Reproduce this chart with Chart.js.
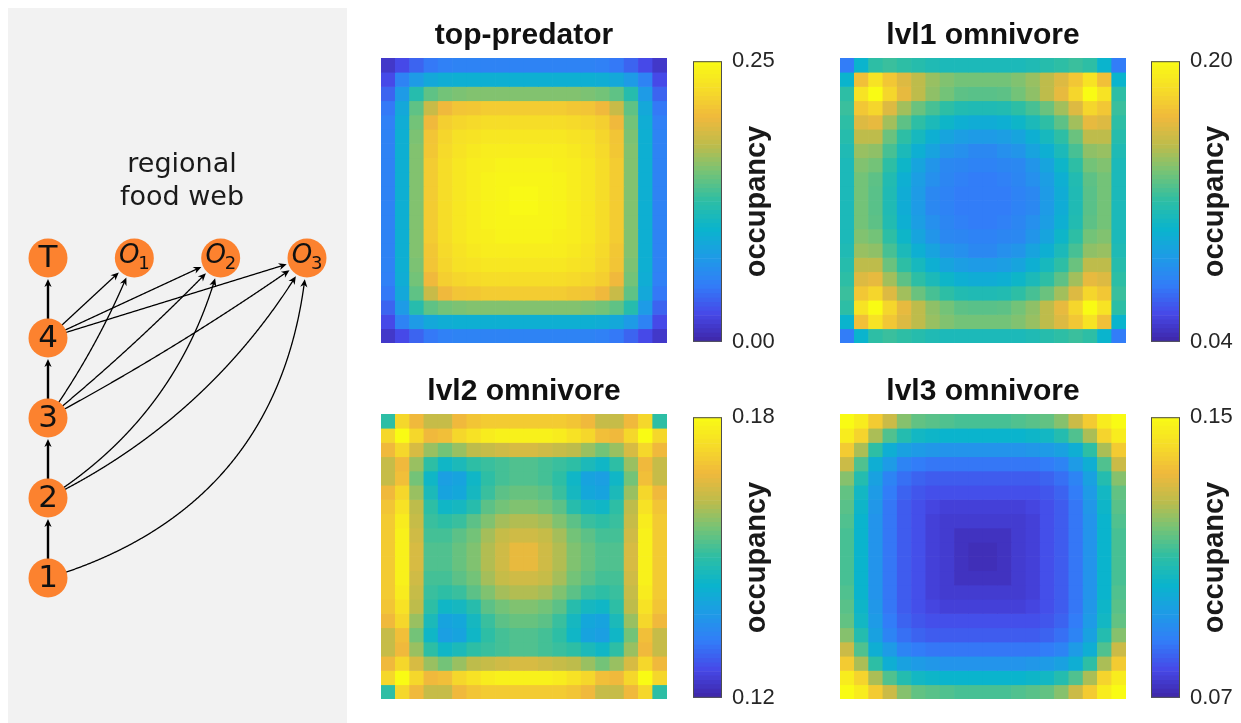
<!DOCTYPE html>
<html><head><meta charset="utf-8">
<script src="https://cdn.jsdelivr.net/npm/chart.js@4.4.1/dist/chart.umd.min.js"></script>
<style>
html,body{margin:0;padding:0;background:#fff;width:1241px;height:723px;overflow:hidden;position:relative}
canvas{position:absolute}
</style></head><body>
<script>
// ---------------- DATA ----------------
const N = 20;
const colLabels = Array.from({length: N}, (_, i) => String(i));
const panelTitles = ['top-predator', 'lvl1 omnivore', 'lvl2 omnivore', 'lvl3 omnivore'];
const rangeMin = [0.00, 0.04, 0.12, 0.07];
const rangeMax = [0.25, 0.20, 0.18, 0.15];
const tickLabels = [['0.00', '0.25'], ['0.04', '0.20'], ['0.12', '0.18'], ['0.07', '0.15']];

const topPredator = [
[.013,.025,.038,.048,.053,.055,.055,.055,.055,.055,.055,.055,.055,.055,.055,.053,.048,.038,.025,.013],
[.025,.055,.075,.088,.093,.095,.095,.095,.095,.095,.095,.095,.095,.095,.095,.093,.088,.075,.055,.025],
[.038,.075,.120,.143,.150,.153,.155,.155,.155,.155,.155,.155,.155,.155,.153,.150,.143,.120,.075,.038],
[.048,.088,.143,.180,.200,.208,.210,.213,.213,.213,.213,.213,.213,.210,.208,.200,.180,.143,.088,.048],
[.053,.093,.150,.200,.215,.220,.223,.225,.225,.225,.225,.225,.225,.223,.220,.215,.200,.150,.093,.053],
[.055,.095,.153,.208,.220,.228,.230,.233,.233,.233,.233,.233,.233,.230,.228,.220,.208,.153,.095,.055],
[.055,.095,.155,.210,.223,.230,.235,.238,.238,.238,.238,.238,.238,.235,.230,.223,.210,.155,.095,.055],
[.055,.095,.155,.213,.225,.233,.238,.240,.243,.243,.243,.243,.240,.238,.233,.225,.213,.155,.095,.055],
[.055,.095,.155,.213,.225,.233,.238,.243,.245,.245,.245,.245,.243,.238,.233,.225,.213,.155,.095,.055],
[.055,.095,.155,.213,.225,.233,.238,.243,.245,.248,.248,.245,.243,.238,.233,.225,.213,.155,.095,.055],
[.055,.095,.155,.213,.225,.233,.238,.243,.245,.248,.248,.245,.243,.238,.233,.225,.213,.155,.095,.055],
[.055,.095,.155,.213,.225,.233,.238,.243,.245,.245,.245,.245,.243,.238,.233,.225,.213,.155,.095,.055],
[.055,.095,.155,.213,.225,.233,.238,.240,.243,.243,.243,.243,.240,.238,.233,.225,.213,.155,.095,.055],
[.055,.095,.155,.210,.223,.230,.235,.238,.238,.238,.238,.238,.238,.235,.230,.223,.210,.155,.095,.055],
[.055,.095,.153,.208,.220,.228,.230,.233,.233,.233,.233,.233,.233,.230,.228,.220,.208,.153,.095,.055],
[.053,.093,.150,.200,.215,.220,.223,.225,.225,.225,.225,.225,.225,.223,.220,.215,.200,.150,.093,.053],
[.048,.088,.143,.180,.200,.208,.210,.213,.213,.213,.213,.213,.213,.210,.208,.200,.180,.143,.088,.048],
[.038,.075,.120,.143,.150,.153,.155,.155,.155,.155,.155,.155,.155,.155,.153,.150,.143,.120,.075,.038],
[.025,.055,.075,.088,.093,.095,.095,.095,.095,.095,.095,.095,.095,.095,.095,.093,.088,.075,.055,.025],
[.013,.025,.038,.048,.053,.055,.055,.055,.055,.055,.055,.055,.055,.055,.055,.053,.048,.038,.025,.013]
];

const lvl1Omnivore = [
[.072,.104,.120,.123,.120,.117,.114,.112,.112,.112,.112,.112,.112,.114,.117,.120,.123,.120,.104,.072],
[.104,.171,.187,.174,.162,.152,.144,.139,.136,.136,.136,.136,.139,.144,.152,.162,.174,.187,.171,.104],
[.120,.187,.200,.181,.165,.152,.142,.136,.131,.130,.130,.131,.136,.142,.152,.165,.181,.200,.187,.120],
[.123,.174,.181,.162,.146,.134,.126,.120,.115,.114,.114,.115,.120,.126,.134,.146,.162,.181,.174,.123],
[.120,.162,.165,.146,.131,.120,.112,.106,.101,.099,.099,.101,.106,.112,.120,.131,.146,.165,.162,.120],
[.117,.152,.152,.134,.120,.110,.101,.094,.090,.088,.088,.090,.094,.101,.110,.120,.134,.152,.152,.117],
[.114,.144,.142,.126,.112,.101,.093,.085,.082,.078,.078,.082,.085,.093,.101,.112,.126,.142,.144,.114],
[.112,.139,.136,.120,.106,.094,.085,.078,.077,.075,.075,.077,.078,.085,.094,.106,.120,.136,.139,.112],
[.112,.136,.131,.115,.101,.090,.082,.077,.074,.072,.072,.074,.077,.082,.090,.101,.115,.131,.136,.112],
[.112,.136,.130,.114,.099,.088,.078,.075,.072,.072,.072,.072,.075,.078,.088,.099,.114,.130,.136,.112],
[.112,.136,.130,.114,.099,.088,.078,.075,.072,.072,.072,.072,.075,.078,.088,.099,.114,.130,.136,.112],
[.112,.136,.131,.115,.101,.090,.082,.077,.074,.072,.072,.074,.077,.082,.090,.101,.115,.131,.136,.112],
[.112,.139,.136,.120,.106,.094,.085,.078,.077,.075,.075,.077,.078,.085,.094,.106,.120,.136,.139,.112],
[.114,.144,.142,.126,.112,.101,.093,.085,.082,.078,.078,.082,.085,.093,.101,.112,.126,.142,.144,.114],
[.117,.152,.152,.134,.120,.110,.101,.094,.090,.088,.088,.090,.094,.101,.110,.120,.134,.152,.152,.117],
[.120,.162,.165,.146,.131,.120,.112,.106,.101,.099,.099,.101,.106,.112,.120,.131,.146,.165,.162,.120],
[.123,.174,.181,.162,.146,.134,.126,.120,.115,.114,.114,.115,.120,.126,.134,.146,.162,.181,.174,.123],
[.120,.187,.200,.181,.165,.152,.142,.136,.131,.130,.130,.131,.136,.142,.152,.165,.181,.200,.187,.120],
[.104,.171,.187,.174,.162,.152,.144,.139,.136,.136,.136,.136,.139,.144,.152,.162,.174,.187,.171,.104],
[.072,.104,.120,.123,.120,.117,.114,.112,.112,.112,.112,.112,.112,.114,.117,.120,.123,.120,.104,.072]
];

const lvl2Omnivore = [
[.150,.173,.168,.163,.163,.168,.170,.171,.171,.171,.171,.171,.171,.170,.168,.163,.163,.168,.173,.150],
[.173,.180,.173,.168,.169,.173,.175,.177,.178,.178,.178,.178,.177,.175,.173,.169,.168,.173,.180,.173],
[.168,.173,.165,.159,.156,.159,.162,.163,.164,.165,.165,.164,.163,.162,.159,.156,.159,.165,.173,.168],
[.163,.168,.159,.150,.145,.147,.150,.151,.152,.153,.153,.152,.151,.150,.147,.145,.150,.159,.168,.163],
[.163,.169,.156,.145,.139,.140,.145,.150,.152,.153,.153,.152,.150,.145,.140,.139,.145,.156,.169,.163],
[.168,.173,.159,.147,.140,.141,.146,.151,.154,.155,.155,.154,.151,.146,.141,.140,.147,.159,.173,.168],
[.170,.175,.162,.150,.145,.146,.149,.154,.156,.157,.157,.156,.154,.149,.146,.145,.150,.162,.175,.170],
[.171,.177,.163,.151,.150,.151,.154,.157,.160,.161,.161,.160,.157,.154,.151,.150,.151,.163,.177,.171],
[.171,.178,.164,.152,.152,.154,.156,.160,.163,.164,.164,.163,.160,.156,.154,.152,.152,.164,.178,.171],
[.171,.178,.165,.153,.153,.155,.157,.161,.164,.167,.167,.164,.161,.157,.155,.153,.153,.165,.178,.171],
[.171,.178,.165,.153,.153,.155,.157,.161,.164,.167,.167,.164,.161,.157,.155,.153,.153,.165,.178,.171],
[.171,.178,.164,.152,.152,.154,.156,.160,.163,.164,.164,.163,.160,.156,.154,.152,.152,.164,.178,.171],
[.171,.177,.163,.151,.150,.151,.154,.157,.160,.161,.161,.160,.157,.154,.151,.150,.151,.163,.177,.171],
[.170,.175,.162,.150,.145,.146,.149,.154,.156,.157,.157,.156,.154,.149,.146,.145,.150,.162,.175,.170],
[.168,.173,.159,.147,.140,.141,.146,.151,.154,.155,.155,.154,.151,.146,.141,.140,.147,.159,.173,.168],
[.163,.169,.156,.145,.139,.140,.145,.150,.152,.153,.153,.152,.150,.145,.140,.139,.145,.156,.169,.163],
[.163,.168,.159,.150,.145,.147,.150,.151,.152,.153,.153,.152,.151,.150,.147,.145,.150,.159,.168,.163],
[.168,.173,.165,.159,.156,.159,.162,.163,.164,.165,.165,.164,.163,.162,.159,.156,.159,.165,.173,.168],
[.173,.180,.173,.168,.169,.173,.175,.177,.178,.178,.178,.178,.177,.175,.173,.169,.168,.173,.180,.173],
[.150,.173,.168,.163,.163,.168,.170,.171,.171,.171,.171,.171,.171,.170,.168,.163,.163,.168,.173,.150]
];

const lvl3Omnivore = [
[.150,.146,.138,.128,.120,.116,.115,.114,.113,.113,.113,.113,.114,.115,.116,.120,.128,.138,.146,.150],
[.146,.140,.124,.114,.108,.104,.103,.102,.102,.102,.102,.102,.102,.103,.104,.108,.114,.124,.140,.146],
[.138,.124,.110,.100,.096,.094,.093,.092,.092,.092,.092,.092,.092,.093,.094,.096,.100,.110,.124,.138],
[.128,.114,.100,.094,.088,.086,.085,.085,.085,.085,.085,.085,.085,.085,.086,.088,.094,.100,.114,.128],
[.120,.108,.096,.088,.084,.082,.081,.081,.081,.081,.081,.081,.081,.081,.082,.084,.088,.096,.108,.120],
[.116,.104,.094,.086,.082,.080,.079,.079,.079,.079,.079,.079,.079,.079,.080,.082,.086,.094,.104,.116],
[.115,.103,.093,.085,.081,.079,.077,.076,.076,.076,.076,.076,.076,.077,.079,.081,.085,.093,.103,.115],
[.114,.102,.092,.085,.081,.079,.076,.075,.075,.075,.075,.075,.075,.076,.079,.081,.085,.092,.102,.114],
[.113,.102,.092,.085,.081,.079,.076,.075,.073,.073,.073,.073,.075,.076,.079,.081,.085,.092,.102,.113],
[.113,.102,.092,.085,.081,.079,.076,.075,.073,.072,.072,.073,.075,.076,.079,.081,.085,.092,.102,.113],
[.113,.102,.092,.085,.081,.079,.076,.075,.073,.072,.072,.073,.075,.076,.079,.081,.085,.092,.102,.113],
[.113,.102,.092,.085,.081,.079,.076,.075,.073,.073,.073,.073,.075,.076,.079,.081,.085,.092,.102,.113],
[.114,.102,.092,.085,.081,.079,.076,.075,.075,.075,.075,.075,.075,.076,.079,.081,.085,.092,.102,.114],
[.115,.103,.093,.085,.081,.079,.077,.076,.076,.076,.076,.076,.076,.077,.079,.081,.085,.093,.103,.115],
[.116,.104,.094,.086,.082,.080,.079,.079,.079,.079,.079,.079,.079,.079,.080,.082,.086,.094,.104,.116],
[.120,.108,.096,.088,.084,.082,.081,.081,.081,.081,.081,.081,.081,.081,.082,.084,.088,.096,.108,.120],
[.128,.114,.100,.094,.088,.086,.085,.085,.085,.085,.085,.085,.085,.085,.086,.088,.094,.100,.114,.128],
[.138,.124,.110,.100,.096,.094,.093,.092,.092,.092,.092,.092,.092,.093,.094,.096,.100,.110,.124,.138],
[.146,.140,.124,.114,.108,.104,.103,.102,.102,.102,.102,.102,.102,.103,.104,.108,.114,.124,.140,.146],
[.150,.146,.138,.128,.120,.116,.115,.114,.113,.113,.113,.113,.114,.115,.116,.120,.128,.138,.146,.150]
];
const grids = [topPredator, lvl1Omnivore, lvl2Omnivore, lvl3Omnivore];

// food web structure
const nodeIds   = ['1', '2', '3', '4', 'T', 'O1', 'O2', 'O3'];
const nodeCol   = [0, 0, 0, 0, 0, 1, 2, 3];
const nodeLevel = [0, 1, 2, 3, 4, 4, 4, 4];
const edgeFrom  = ['1', '2', '3', '4', '4', '4', '4', '3', '3', '3', '2', '2', '1'];
const edgeTo    = ['2', '3', '4', 'T', 'O1', 'O2', 'O3', 'O1', 'O2', 'O3', 'O2', 'O3', 'O3'];
const webTitle  = ['regional', 'food web'];

// ---------------- STYLE ----------------
const FONT = '"Liberation Sans", Arial, Helvetica, sans-serif';
const WFONT = '"DejaVu Sans", sans-serif';
const edgeBend  = [0, 0, 0, 0, 0, 0, 0, 0.06, 0.03, 0.03, 0.2, 0.15, 0.34];
const edgeWidth = [2.4, 2.4, 2.4, 2.4, 1.3, 1.3, 1.3, 1.3, 1.3, 1.3, 1.3, 1.3, 1.3];
const NODE_R = 19.5, TIP_GAP = 21, HEAD_L = 8, HEAD_W = 3.6;
const ORANGE = '#fc822f';
const PARULA = [[62,38,168],[70,73,232],[50,125,248],[30,155,230],[10,180,205],[45,190,165],[115,195,120],[190,188,75],[240,185,60],[246,221,40],[249,251,20]];
function parula(t) {
  t = Math.max(0, Math.min(1, t));
  const s = t * (PARULA.length - 1);
  const i = Math.min(Math.floor(s), PARULA.length - 2), f = s - i;
  const a = PARULA[i], b = PARULA[i + 1];
  return 'rgb(' + [0,1,2].map(k => Math.round(a[k] + (b[k] - a[k]) * f)).join(',') + ')';
}
const heatBoxes = [[381, 18], [840, 18], [381, 374], [840, 374]];
const cbBoxes   = [[693, 38], [1151, 38], [693, 394], [1151, 394]];

function mk(left, top, w, h) {
  const c = document.createElement('canvas');
  c.width = w; c.height = h;
  c.style.left = left + 'px'; c.style.top = top + 'px';
  c.style.width = w + 'px'; c.style.height = h + 'px';
  document.body.appendChild(c);
  return c;
}
const baseOpts = {responsive: false, animation: false, events: [], devicePixelRatio: 1};

// ---------------- HEATMAPS ----------------
function heatChart(k) {
  const cv = mk(heatBoxes[k][0], heatBoxes[k][1], 286, 325);
  const lo = rangeMin[k], hi = rangeMax[k];
  new Chart(cv, {
    type: 'bar',
    data: {
      labels: colLabels,
      datasets: grids[k].map((row, r) => ({
        data: row.map(() => [N - 1 - r, N - r]),
        backgroundColor: row.map(v => parula((v - lo) / (hi - lo))),
        borderWidth: 0, grouped: false, barPercentage: 1, categoryPercentage: 1
      }))
    },
    options: Object.assign({}, baseOpts, {
      layout: {padding: 0, autoPadding: false},
      plugins: {
        legend: {display: false}, tooltip: {enabled: false},
        title: {display: true, text: panelTitles[k], color: '#111',
                font: {family: FONT, size: 30, weight: 'bold', lineHeight: 1.2},
                padding: {top: 0, bottom: 4}}
      },
      scales: {x: {display: false}, y: {display: false, min: 0, max: N}}
    })
  });
}

// ---------------- COLORBARS ----------------
const CB_STEPS = 64;
const cbPlugin = {
  id: 'cbdeco',
  afterDraw(ch) {
    const a = ch.chartArea, c = ch.ctx;
    c.save();
    c.strokeStyle = '#4d4d4d'; c.lineWidth = 1;
    c.strokeRect(a.left + 0.5, a.top + 0.5, a.right - a.left - 1, a.bottom - a.top - 1);
    c.fillStyle = '#1a1a1a';
    c.font = 'bold 29px ' + FONT;
    c.translate(a.right + 43, (a.top + a.bottom) / 2);
    c.rotate(-Math.PI / 2);
    c.textAlign = 'center'; c.textBaseline = 'alphabetic';
    c.fillText('occupancy', 0, 0);
    c.restore();
  }
};
function cbChart(k) {
  const cv = mk(cbBoxes[k][0], cbBoxes[k][1], 110, 327);
  const lo = rangeMin[k], hi = rangeMax[k], st = (hi - lo) / CB_STEPS;
  const ds = [];
  for (let s = 0; s < CB_STEPS; s++) {
    ds.push({data: [[lo + s * st, lo + (s + 1) * st]], backgroundColor: parula((s + 0.5) / CB_STEPS),
             borderWidth: 0, grouped: false, barPercentage: 1, categoryPercentage: 1});
  }
  new Chart(cv, {
    type: 'bar',
    data: {labels: ['colorbar'], datasets: ds},
    options: Object.assign({}, baseOpts, {
      layout: {padding: {top: 20, bottom: 20, left: 0, right: 0}, autoPadding: false},
      plugins: {legend: {display: false}, tooltip: {enabled: false}},
      scales: {
        x: {display: false},
        y: {position: 'right', min: lo, max: hi,
            grid: {display: false, drawTicks: false}, border: {display: false},
            afterBuildTicks: ax => { ax.ticks = [{value: lo}, {value: hi}]; },
            afterFit: ax => { ax.width = 81; },
            ticks: {padding: 10, color: '#262626', font: {family: FONT, size: 22},
                    autoSkip: false, maxRotation: 0,
                    callback: (v, i) => tickLabels[k][i]}}
      }
    }),
    plugins: [cbPlugin]
  });
}

// ---------------- FOOD WEB ----------------
const webPlugin = {
  id: 'web',
  beforeDraw(ch) {
    const c = ch.ctx; c.save(); c.fillStyle = '#f2f2f2'; c.fillRect(0, 0, ch.width, ch.height); c.restore();
  },
  beforeDatasetsDraw(ch) {
    const c = ch.ctx, xs = ch.scales.x, ys = ch.scales.y;
    const P = id => { const i = nodeIds.indexOf(id); return [xs.getPixelForValue(nodeCol[i]), ys.getPixelForValue(nodeLevel[i])]; };
    c.save();
    c.fillStyle = '#1a1a1a';
    c.font = '27px ' + WFONT; c.textAlign = 'center'; c.textBaseline = 'alphabetic';
    c.fillText(webTitle[0], xs.getPixelForValue(1.552), ys.getPixelForValue(5.075));
    c.fillText(webTitle[1], xs.getPixelForValue(1.552), ys.getPixelForValue(4.6625));
    c.strokeStyle = '#000'; c.fillStyle = '#000'; c.lineCap = 'butt';
    edgeFrom.forEach((f, e) => {
      const [x1, y1] = P(f), [x2, y2] = P(edgeTo[e]);
      const dx = x2 - x1, dy = y2 - y1, r = edgeBend[e];
      const cx = (x1 + x2) / 2 - r * dy, cy = (y1 + y2) / 2 + r * dx;
      const B = t => [(1-t)*(1-t)*x1 + 2*t*(1-t)*cx + t*t*x2, (1-t)*(1-t)*y1 + 2*t*(1-t)*cy + t*t*y2];
      const pts = []; let tip = null, tipT = 1;
      for (let s = 0; s <= 600; s++) {
        const t = s / 600, p = B(t), d = Math.hypot(p[0] - x2, p[1] - y2);
        if (d >= TIP_GAP + HEAD_L * 0.6) pts.push(p);
        if (d >= TIP_GAP) { tip = p; tipT = t; }
      }
      c.lineWidth = edgeWidth[e];
      c.beginPath(); pts.forEach((p, i) => i ? c.lineTo(p[0], p[1]) : c.moveTo(p[0], p[1])); c.stroke();
      const tx = 2*(1-tipT)*(cx - x1) + 2*tipT*(x2 - cx), ty = 2*(1-tipT)*(cy - y1) + 2*tipT*(y2 - cy);
      const L = Math.hypot(tx, ty), ux = tx / L, uy = ty / L, nx = -uy, ny = ux;
      const bx = tip[0] - ux * HEAD_L, by = tip[1] - uy * HEAD_L;
      c.beginPath();
      c.moveTo(tip[0], tip[1]);
      c.lineTo(bx + nx * HEAD_W, by + ny * HEAD_W);
      c.lineTo(tip[0] - ux * HEAD_L * 0.7, tip[1] - uy * HEAD_L * 0.7);
      c.lineTo(bx - nx * HEAD_W, by - ny * HEAD_W);
      c.closePath(); c.fill();
    });
    c.restore();
  },
  afterDatasetsDraw(ch) {
    const c = ch.ctx, xs = ch.scales.x, ys = ch.scales.y;
    c.save(); c.fillStyle = '#111'; c.textBaseline = 'middle';
    nodeIds.forEach((id, i) => {
      const x = xs.getPixelForValue(nodeCol[i]), y = ys.getPixelForValue(nodeLevel[i]);
      if (id[0] === 'O') {
        c.font = 'italic 26px ' + WFONT; c.textAlign = 'center';
        c.fillText('O', x - 5, y - 2);
        c.font = '18px ' + WFONT; c.textAlign = 'left';
        c.fillText(id.slice(1), x + 4, y + 6);
      } else {
        c.font = '31px ' + WFONT; c.textAlign = 'center';
        c.fillText(id, x, y + 1);
      }
    });
    c.restore();
  }
};
function webChart() {
  const cv = mk(8, 8, 339, 715);
  new Chart(cv, {
    type: 'scatter',
    data: {datasets: [{
      data: nodeIds.map((id, i) => ({x: nodeCol[i], y: nodeLevel[i]})),
      pointRadius: NODE_R, pointBackgroundColor: ORANGE, pointBorderWidth: 0, pointHoverRadius: NODE_R
    }]},
    options: Object.assign({}, baseOpts, {
      layout: {padding: 0, autoPadding: false},
      plugins: {legend: {display: false}, tooltip: {enabled: false}},
      scales: {x: {display: false, min: -0.4633, max: 3.4633}, y: {display: false, min: -1.8125, max: 7.125}}
    }),
    plugins: [webPlugin]
  });
}

webChart();
for (let k = 0; k < 4; k++) { heatChart(k); cbChart(k); }
</script>
</body></html>
